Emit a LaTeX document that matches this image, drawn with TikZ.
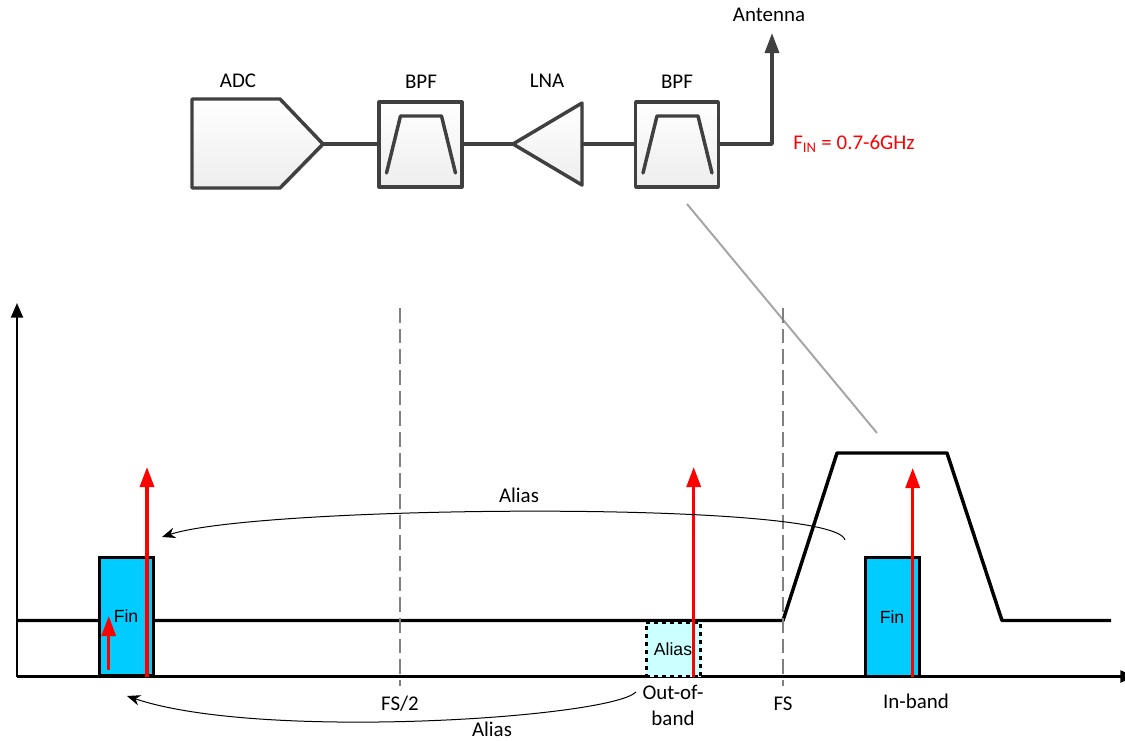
\documentclass[tikz,border=0pt]{standalone}
\usepackage{fontspec}
\setmainfont{Carlito}
\newfontfamily\arialfont{Liberation Sans}
\usetikzlibrary{arrows.meta,shadows}
\definecolor{blockgray}{HTML}{404040}
\definecolor{finblue}{HTML}{00CCFF}
\definecolor{aliascyan}{HTML}{CCFFFF}
\tikzset{
  label/.style={font=\fontsize{15.7}{19.5}\selectfont,inner sep=0pt,align=center},
  boxtext/.style={font=\arialfont\fontsize{13.2}{15}\selectfont,inner sep=0pt},
  block/.style={draw=blockgray,line width=2.6pt,line join=round,top color=white,bottom color=black!7,
    drop shadow={shadow xshift=1.2pt,shadow yshift=-1.2pt,fill=black!12,opacity=1}},
  wire/.style={draw=blockgray,line width=2.6pt,line join=round},
  bpfline/.style={draw=blockgray,line width=2.6pt,line join=round,line cap=round},
  fband/.style={draw=black,line width=2.4pt,fill=finblue},
  sig/.style={draw=red,line width=2.4pt,-{Triangle[length=15pt,width=10.5pt]}},
  fsline/.style={draw=gray,line width=1.6pt,dash pattern=on 11pt off 4.5pt},
  aliascurve/.style={draw=black,line width=0.75pt,-{Stealth[length=10pt,width=8pt]}},
  axis/.style={draw=black,line width=1.6pt,-{Triangle[length=11pt,width=9pt]}},
}
\begin{document}
\begin{tikzpicture}[x=0.75pt,y=-0.75pt,>=stealth]
  \useasboundingbox (0,0) rectangle (1125,740);
  % receive chain
  \coordinate (adctip) at (323,144);
  \draw[block] (192,99) -- (280,99) -- (adctip) -- (280,188) -- (192,188) -- cycle;
  \coordinate (lnatip) at (513,144);
  \coordinate (lnaback) at (582,144);
  \draw[block] (lnatip) -- (582,103) -- (582,185) -- cycle;
  \foreach \x/\n in {420.5/bpfa,677/bpfb}
  {
    \node[block,minimum width=62pt,minimum height=63.5pt,inner sep=0pt] (\n) at (\x,144.5) {};
    \draw[bpfline] (\x-34,173) -- (\x-20,116) -- (\x+21,116) -- (\x+35,173);
  }
  \coordinate (antcorner) at (772,144);
  \coordinate (anttip) at (772,33);
  \draw[wire] (adctip) -- (bpfa.west |- adctip);
  \draw[wire] (bpfa.east |- lnatip) -- (lnatip);
  \draw[wire] (lnaback) -- (bpfb.west |- lnaback);
  \draw[wire,-{Triangle[length=15pt,width=10.5pt]}] (bpfb.east |- antcorner) -- (antcorner) -- (anttip);
  \node[label] (adclabel) at (238,81) {ADC};
  \node[label] (bpfalabel) at (421,82) {BPF};
  \node[label] (lnalabel) at (547,81) {LNA};
  \node[label] (bpfblabel) at (677,82) {BPF};
  \node[label] (antlabel) at (769,15) {Antenna};
  \node[label,text=red] (finlabel) at (854,144) {F\textsubscript{IN} = 0.7-6GHz};
  % zoom line
  \coordinate (zooma) at (687,204);
  \coordinate (zoomb) at (877,433);
  \draw[draw=black!35,line width=1.5pt] (zooma) -- (zoomb);
  % spectrum
  \coordinate (origin) at (17,676.5);
  \coordinate (ytop) at (17,303);
  \coordinate (xend) at (1135,676.5);
  \draw[axis] (origin) -- (ytop);
  \draw[axis] (origin) -- (xend);
  \draw[draw=black,line width=2.6pt,line join=round] (16,620.5) -- (783,620.5) -- (837,453) -- (947,453) -- (1002,620.5) -- (1111,620.5);
  \node[draw=black,line width=2.25pt,dash pattern=on 3pt off 3pt,fill=aliascyan,minimum width=41pt,minimum height=41pt,inner sep=0pt] (aliasbox) at (673.5,649.5) {};
  \node[boxtext] (aliastext) at (673,649) {Alias};
  \node[fband,minimum width=40.5pt,minimum height=89pt,inner sep=0pt] (fina) at (126.4,616.6) {};
  \node[boxtext] (finatext) at (126,616) {Fin};
  \node[fband,minimum width=40.8pt,minimum height=89pt,inner sep=0pt] (finb) at (892.5,616.8) {};
  \node[boxtext] (finbtext) at (892,617) {Fin};
  \foreach \x/\n in {400/fsa,783/fsb}
  {
    \coordinate (\n top) at (\x,308);
    \coordinate (\n low) at (\x,686);
    \draw[fsline] (\n top) -- (\n low);
  }
  \foreach \x/\b/\t/\n in {
    147/677/467/siga,
    693.7/677/467/sigb,
    912.7/677/468/sigc,
    108.7/670/616/sigd%
  }
  {
    \coordinate (\n low) at (\x,\b);
    \coordinate (\n top) at (\x,\t);
    \draw[sig] (\n low) -- (\n top);
  }
  \node[label] (fsalabel) at (400,704) {FS/2};
  \node[label] (fsblabel) at (783,704) {FS};
  \node[label] (outband) at (673,705) {Out-of-\\band};
  \node[label] (inband) at (916,701) {In-band};
  % alias curves
  \coordinate (curveastart) at (845,540);
  \coordinate (curveaend) at (162,537);
  \coordinate (curvebstart) at (636,692);
  \coordinate (curvebend) at (127,696);
  \draw[aliascurve] (curveastart) .. controls (835,500) and (260,505) .. (curveaend);
  \draw[aliascurve] (curvebstart) .. controls (610,718) and (260,741) .. (curvebend);
  \node[label] (aliasa) at (519,495) {Alias};
  \node[label] (aliasb) at (492,729) {Alias};
\end{tikzpicture}
\end{document}
